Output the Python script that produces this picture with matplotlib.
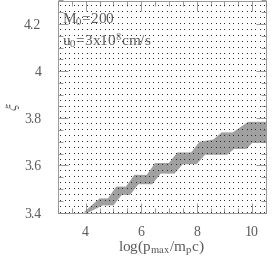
import numpy as np
import matplotlib
matplotlib.use("Agg")
import matplotlib.pyplot as plt
from matplotlib.ticker import MultipleLocator

# parameter scan lattice: log(p_max/m_p c) and xi
grid_x_step = 0.16
grid_y_step = 0.025

# boundaries of the shaded (allowed) region
upper_x = [3.92, 4.50, 4.80, 5.10, 5.45, 5.75, 6.20, 6.50, 7.00, 7.30, 7.80, 8.10,
           8.60, 8.90, 9.30, 9.55, 9.85, 10.5]
upper_y = [3.40, 3.46, 3.46, 3.51, 3.51, 3.56, 3.56, 3.61, 3.61, 3.655, 3.655, 3.70,
           3.71, 3.74, 3.74, 3.76, 3.785, 3.785]
lower_x = [4.10, 4.60, 5.00, 5.30, 5.60, 5.90, 6.40, 6.70, 7.20, 7.50, 8.00, 8.30,
           9.10, 9.35, 9.80, 10.0, 10.5]
lower_y = [3.40, 3.43, 3.43, 3.475, 3.475, 3.52, 3.52, 3.565, 3.565, 3.605, 3.605, 3.645,
           3.645, 3.67, 3.67, 3.695, 3.695]

x_ticks = [4, 6, 8, 10]
y_ticks = [3.4, 3.6, 3.8, 4.0, 4.2]
y_tick_labels = ['3.4', '3.6', '3.8', '4', '4.2']

plt.rcParams['font.family'] = ['Liberation Serif', 'DejaVu Serif']
plt.rcParams['mathtext.fontset'] = 'stix'

ink = '#5a5a5a'

fig = plt.figure(figsize=(2.73, 2.61), dpi=100)
ax = fig.add_axes([58 / 273, 1 - 212.5 / 261, 208 / 273, 212 / 261])
ax.set_xlim(3, 10.5)
ax.set_ylim(3.4, 4.3)

# shaded band
poly_x = upper_x + lower_x[::-1]
poly_y = upper_y + lower_y[::-1]
ax.fill(poly_x, poly_y, color='#a0a0a0', lw=0, zorder=1)

# dotted lattice
gx = np.arange(3.08, 10.5, grid_x_step)
gy = np.arange(3.4, 4.3 + 1e-6, grid_y_step)
X, Y = np.meshgrid(gx, gy)
ax.plot(X.ravel(), Y.ravel(), ',', color='#2a2a2a', zorder=2)

ax.text(3.14, 4.217, r'M$_0$=200', color=ink, fontsize=11, va='center', ha='left', zorder=3)
ax.text(3.14, 4.13, r'u$_0$=3x10$^8$cm/s', color=ink, fontsize=11, va='center', ha='left', zorder=3)

ax.set_xticks(x_ticks)
ax.set_yticks(y_ticks)
ax.set_yticklabels(y_tick_labels)
ax.xaxis.set_minor_locator(MultipleLocator(0.5))
ax.yaxis.set_minor_locator(MultipleLocator(0.05))
ax.tick_params(which='both', direction='in', top=True, right=True, color='#888888',
               labelcolor=ink, labelsize=10, width=0.6)
ax.tick_params(which='major', length=7)
ax.tick_params(which='minor', length=3.5)
ax.tick_params(axis='y', pad=12)
ax.tick_params(axis='x', pad=10)
for s in ax.spines.values():
    s.set_color('#888888')
    s.set_linewidth(0.6)

ax.set_xlabel(r'log(p$_{\rm max}$/m$_{\rm p}$c)', color=ink, fontsize=11)
ax.xaxis.set_label_coords(0.5, -0.125)
ax.set_ylabel(r'$\xi$', color=ink, fontsize=11, rotation=90)
ax.yaxis.set_label_coords(-0.175, 0.5)

fig.savefig('out.png', dpi=100)
